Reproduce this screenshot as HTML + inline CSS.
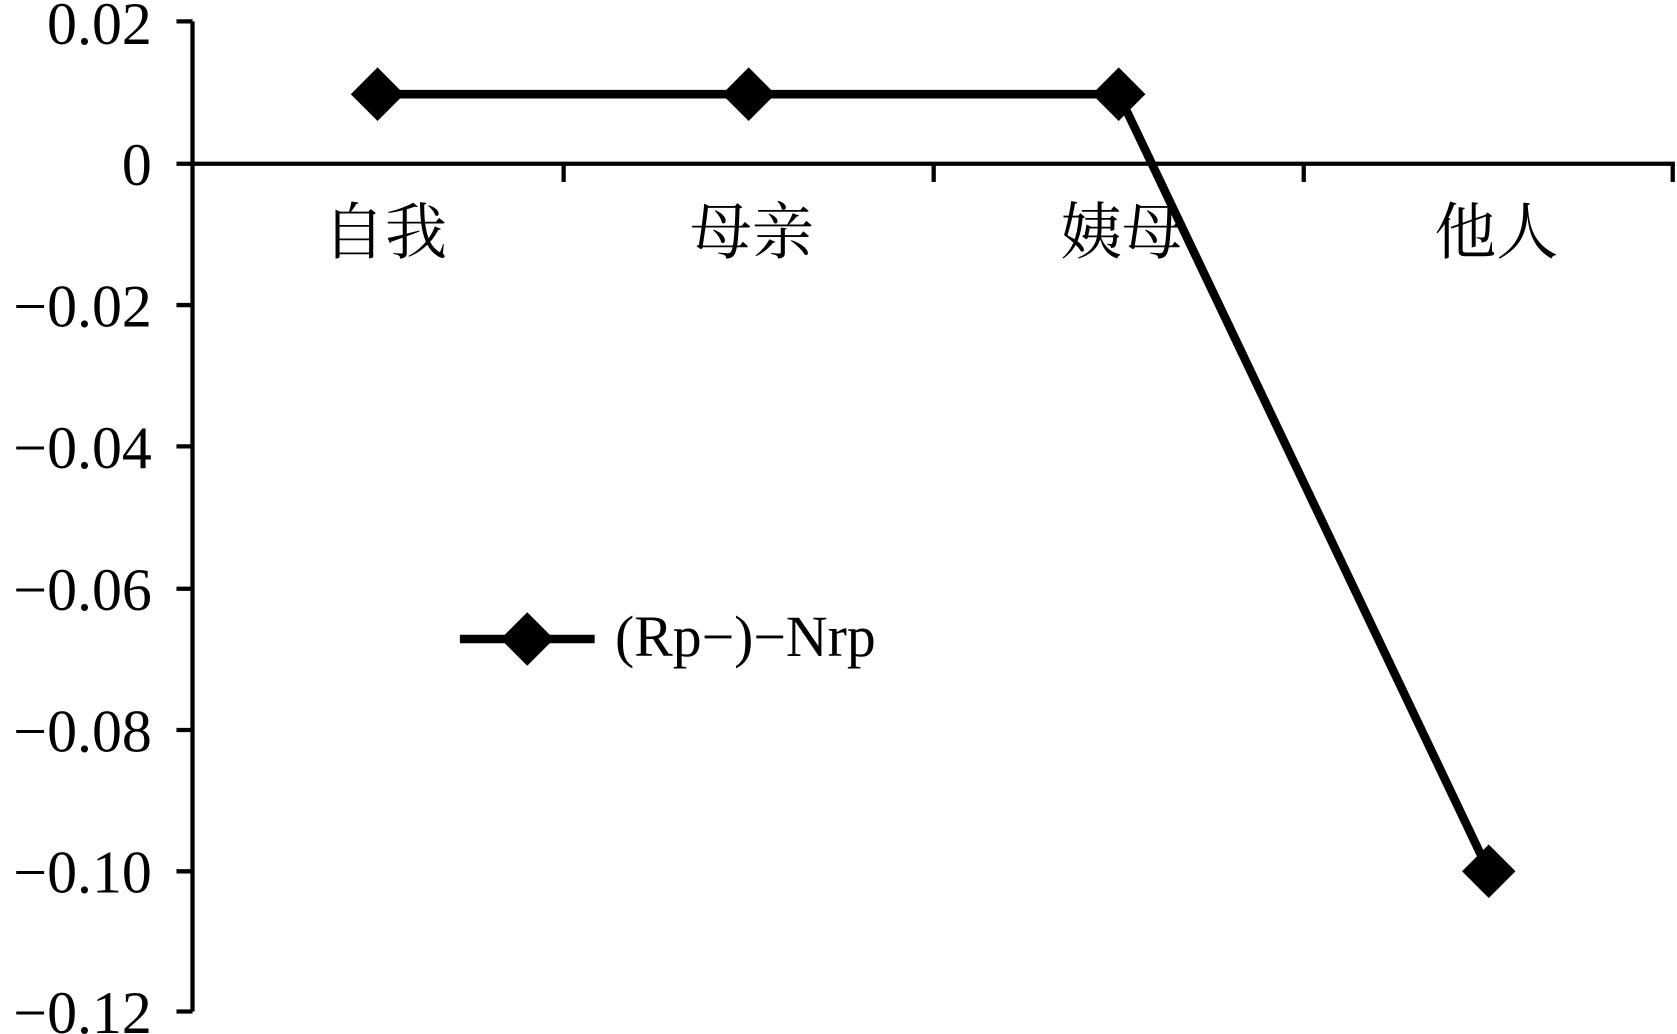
<!DOCTYPE html>
<html><head><meta charset="utf-8"><style>
html,body{margin:0;padding:0;background:#fff;}
svg{display:block;}
.n{font-family:"Liberation Serif",serif;fill:#000;}
.c{font-family:"Liberation Serif","Noto Serif CJK SC",serif;fill:#000;}
</style></head><body>
<svg width="1677" height="1034" viewBox="0 0 1568 966" preserveAspectRatio="none" xmlns="http://www.w3.org/2000/svg">
<g stroke="#000" stroke-width="4" fill="none">
<line x1="180" y1="20" x2="180" y2="945"/>
<line x1="180" y1="153" x2="1566" y2="153"/>
<line x1="165" y1="20" x2="180" y2="20"/>
<line x1="165" y1="153" x2="180" y2="153"/>
<line x1="165" y1="285" x2="180" y2="285"/>
<line x1="165" y1="417" x2="180" y2="417"/>
<line x1="165" y1="550" x2="180" y2="550"/>
<line x1="165" y1="682" x2="180" y2="682"/>
<line x1="165" y1="814" x2="180" y2="814"/>
<line x1="165" y1="945" x2="180" y2="945"/>
<line x1="527" y1="153" x2="527" y2="170"/>
<line x1="873" y1="153" x2="873" y2="170"/>
<line x1="1219" y1="153" x2="1219" y2="170"/>
<line x1="1564" y1="153" x2="1564" y2="170"/>
</g>
<g class="n" font-size="56" text-anchor="end">
<text x="142" y="41">0.02</text>
<text x="142" y="173">0</text>
<text x="142" y="305">−0.02</text>
<text x="142" y="437">−0.04</text>
<text x="142" y="570">−0.06</text>
<text x="142" y="702">−0.08</text>
<text x="142" y="834">−0.10</text>
<text x="142" y="965">−0.12</text>
</g>
<g class="c" font-size="58" text-anchor="middle">
<text x="360" y="237">自我</text>
<text x="703" y="237">母亲</text>
<text x="1049" y="237">姨母</text>
<text x="1399" y="237">他人</text>
</g>
<polyline points="353,88 700,88 1046,88 1392,814" stroke="#000" stroke-width="8" fill="none" stroke-linejoin="round"/>
<g fill="#000">
<polygon points="353,63 378,88 353,113 328,88"/>
<polygon points="700,63 725,88 700,113 675,88"/>
<polygon points="1046,63 1071,88 1046,113 1021,88"/>
<polygon points="1392,789 1417,814 1392,839 1367,814"/>
<polygon points="493,572 518,597 493,622 468,597"/>
</g>
<line x1="430" y1="597" x2="556" y2="597" stroke="#000" stroke-width="8"/>
<text class="n" x="575" y="613" font-size="54">(Rp−)−Nrp</text>
</svg>
</body></html>
